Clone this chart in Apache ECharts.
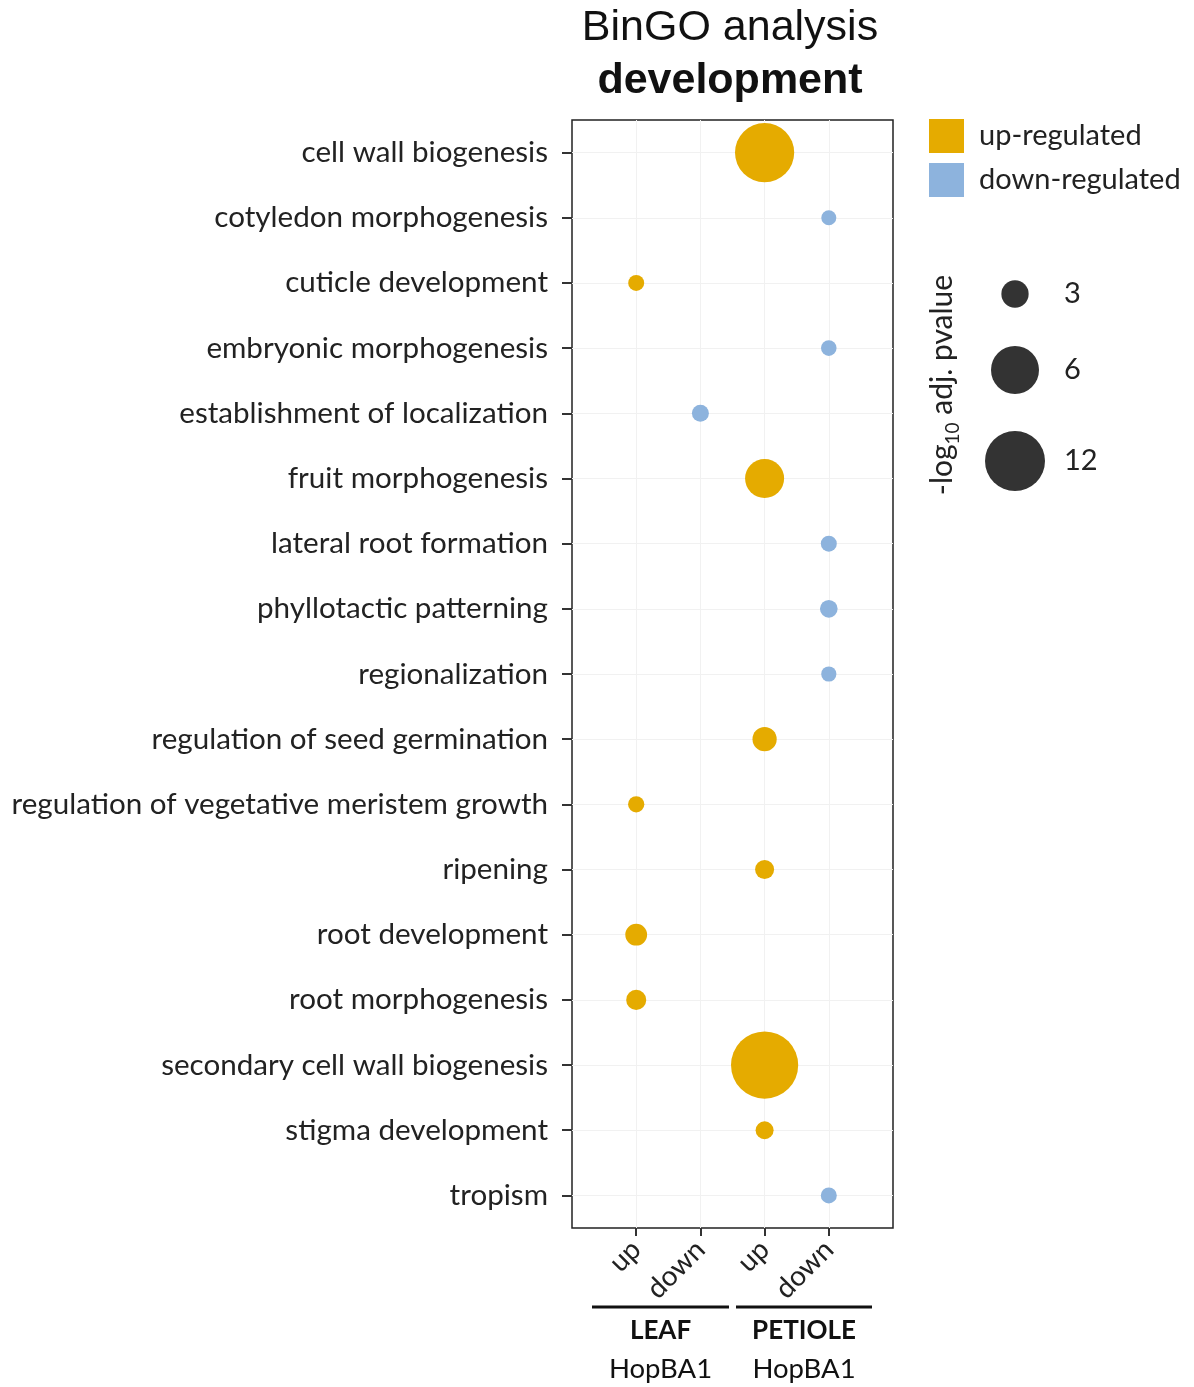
<!DOCTYPE html>
<html>
<head>
<meta charset="utf-8">
<script src="https://cdn.jsdelivr.net/npm/echarts@6/dist/echarts.min.js"></script>
<style>
html,body{margin:0;padding:0;background:#fff;}
#chart{width:1194px;height:1387px;}
</style>
</head>
<body>
<div id="chart"></div>
<script>
// ---- data ----
const terms = [
  'cell wall biogenesis',
  'cotyledon morphogenesis',
  'cuticle development',
  'embryonic morphogenesis',
  'establishment of localization',
  'fruit morphogenesis',
  'lateral root formation',
  'phyllotactic patterning',
  'regionalization',
  'regulation of seed germination',
  'regulation of vegetative meristem growth',
  'ripening',
  'root development',
  'root morphogenesis',
  'secondary cell wall biogenesis',
  'stigma development',
  'tropism'
];
const columnLabels = ['up', 'down', 'up', 'down'];
const groupLabels = ['LEAF', 'PETIOLE'];
const groupSubLabels = ['HopBA1', 'HopBA1'];
// [term, column (1..4), -log10 adj. pvalue]
const upRegulated = [
  ['cell wall biogenesis', 3, 11.6],
  ['cuticle development', 1, 1.36],
  ['fruit morphogenesis', 3, 4.7],
  ['regulation of seed germination', 3, 2.55],
  ['regulation of vegetative meristem growth', 1, 1.4],
  ['ripening', 3, 1.8],
  ['root development', 1, 2.2],
  ['root morphogenesis', 1, 1.95],
  ['secondary cell wall biogenesis', 3, 15.6],
  ['stigma development', 3, 1.65]
];
const downRegulated = [
  ['cotyledon morphogenesis', 4, 1.22],
  ['embryonic morphogenesis', 4, 1.3],
  ['establishment of localization', 2, 1.5],
  ['lateral root formation', 4, 1.36],
  ['phyllotactic patterning', 4, 1.6],
  ['regionalization', 4, 1.25],
  ['tropism', 4, 1.36]
];
const sizeLegendValues = [3, 6, 12];
// size scale anchors: value -> diameter (px)
const sizeAnchors = [[3, 27.3], [6, 48], [12, 60]];

function sizeFn(v) {
  const a = sizeAnchors;
  const i = v <= a[1][0] ? 0 : 1;
  const [x0, y0] = a[i], [x1, y1] = a[i + 1];
  return y0 + (v - x0) * (y1 - y0) / (x1 - x0);
}

const UP = '#E5AB00', DOWN = '#8DB3DD';
const FONT = 'Lato';

function toPts(arr) {
  return arr.map(d => [d[1], terms.indexOf(d[0]) + 1, d[2]]);
}

const chart = echarts.init(document.getElementById('chart'), null, {renderer: 'canvas'});
const gridL = 572, gridT = 120, gridW = 321, gridH = 1108;
const rowIdx = terms.map((t, i) => i + 1);

const option = {
  backgroundColor: '#fff',
  animation: false,
  legend: {
    left: 929, top: 119, orient: 'vertical', icon: 'rect', padding: 0,
    itemWidth: 35, itemHeight: 34, itemGap: 10,
    textStyle: {fontFamily: FONT, fontSize: 29, color: '#222', padding: [0, 0, 0, 10]},
    data: ['up-regulated', 'down-regulated']
  },
  grid: {left: gridL, top: gridT, width: gridW, height: gridH, show: true,
         borderColor: '#222', borderWidth: 1.5, backgroundColor: 'transparent'},
  xAxis: {
    type: 'value', min: 0, max: 5,
    axisLine: {show: false},
    axisTick: {show: true, length: 8, lineStyle: {color: '#333', width: 2}, customValues: [1, 2, 3, 4]},
    axisLabel: {customValues: [1, 2, 3, 4], rotate: 45, margin: 17,
      fontFamily: FONT, fontSize: 28, color: '#222',
      formatter: v => columnLabels[v - 1] || ''},
    splitLine: {show: true, lineStyle: {color: '#f1f1f1', width: 1}}
  },
  yAxis: {
    type: 'value', min: 0.5, max: 17.5, inverse: true,
    axisLine: {show: false},
    axisTick: {show: true, length: 10, lineStyle: {color: '#333', width: 2}, customValues: rowIdx},
    axisLabel: {customValues: rowIdx, margin: 24, fontFamily: FONT, fontSize: 29.6, color: '#222',
      formatter: v => terms[v - 1] || ''},
    splitLine: {show: true, lineStyle: {color: '#f1f1f1', width: 1}}
  },
  series: [
    {name: 'up-regulated', type: 'scatter', data: toPts(upRegulated),
     symbolSize: d => sizeFn(d[2]), itemStyle: {color: UP, opacity: 1}},
    {name: 'down-regulated', type: 'scatter', data: toPts(downRegulated),
     symbolSize: d => sizeFn(d[2]), itemStyle: {color: DOWN, opacity: 1}}
  ],
  graphic: []
};

const g = [];
// titles
g.push({type: 'text', x: 730, y: 28,
  style: {text: 'BinGO analysis', fontFamily: 'Liberation Sans', fontSize: 43, fill: '#111',
          textAlign: 'center', textVerticalAlign: 'middle'}});
g.push({type: 'text', x: 730, y: 81,
  style: {text: 'development', fontFamily: 'Liberation Sans', fontSize: 43, fontWeight: 'bold', fill: '#111',
          textAlign: 'center', textVerticalAlign: 'middle'}});
// size legend
const sizeLegY = [294, 370, 461];
sizeLegendValues.forEach((v, i) => {
  g.push({type: 'circle', shape: {cx: 1015, cy: sizeLegY[i], r: sizeFn(v) / 2},
          style: {fill: '#333333'}});
  g.push({type: 'text', x: 1064, y: sizeLegY[i],
          style: {text: String(v), fontFamily: FONT, fontSize: 29, fill: '#222',
                  textVerticalAlign: 'middle', textAlign: 'left'}});
});
g.push({type: 'text', x: 942, y: 385, rotation: Math.PI / 2,
  style: {text: '{n|-log}{s|10}{n| adj. pvalue}', textAlign: 'center', textVerticalAlign: 'middle',
    rich: {n: {fontFamily: FONT, fontSize: 30, fill: '#222', lineHeight: 40, verticalAlign: 'middle'},
           s: {fontFamily: FONT, fontSize: 19, fill: '#222', lineHeight: 40, verticalAlign: 'bottom'}}}});
// group annotations under x-axis
const groupSpans = [[592, 729], [736, 872]];
groupSpans.forEach((s, i) => {
  g.push({type: 'line', shape: {x1: s[0], y1: 1307, x2: s[1], y2: 1307},
          style: {stroke: '#111', lineWidth: 3}});
  const cx = (s[0] + s[1]) / 2;
  g.push({type: 'text', x: cx, y: 1331,
          style: {text: groupLabels[i], fontFamily: FONT, fontSize: 26, fontWeight: 'bold', fill: '#111',
                  textAlign: 'center', textVerticalAlign: 'middle'}});
  g.push({type: 'text', x: cx, y: 1369,
          style: {text: groupSubLabels[i], fontFamily: FONT, fontSize: 27.5, fill: '#111',
                  textAlign: 'center', textVerticalAlign: 'middle'}});
});
option.graphic = g;
chart.setOption(option);
</script>
</body>
</html>
